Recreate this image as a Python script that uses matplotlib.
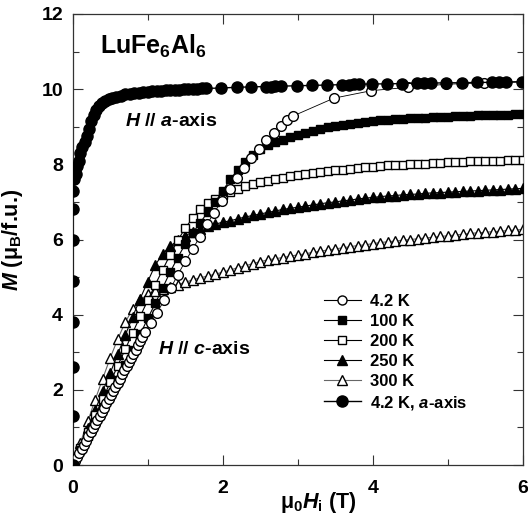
import matplotlib
matplotlib.use("Agg")
import matplotlib.pyplot as plt
from matplotlib.lines import Line2D
from matplotlib.ticker import MultipleLocator

plt.rcParams['font.family'] = ['Liberation Sans', 'DejaVu Sans']
plt.rcParams['font.weight'] = 'bold'
plt.rcParams['mathtext.fontset'] = 'custom'
plt.rcParams['mathtext.rm'] = 'Liberation Sans:bold'
plt.rcParams['mathtext.it'] = 'Liberation Sans:bold:italic'
plt.rcParams['mathtext.bf'] = 'Liberation Sans:bold'

# ---- data ----
x_a = [0, 0, 0, 0, 0, 0, 0, 0, 0, 0.02, 0.04, 0.06, 0.08, 0.10, 0.13, 0.16, 0.19, 0.22,
       0.25, 0.28, 0.31, 0.35, 0.39, 0.43, 0.48, 0.53, 0.58, 0.64, 0.70, 0.76, 0.82, 0.88,
       0.94, 1.00, 1.06, 1.12, 1.18, 1.24, 1.30, 1.36, 1.42, 1.48, 1.54, 1.60, 1.66, 1.72,
       1.78, 1.98, 2.19, 2.38, 2.58, 2.64, 2.70, 2.77, 2.99, 3.19, 3.39, 3.59, 3.68, 3.75,
       3.82, 3.99, 4.19, 4.39, 4.59, 4.68, 4.77, 4.98, 5.19, 5.39, 5.59, 5.68, 5.77, 5.99]
y_a = [0.0, 1.3, 2.6, 3.8, 4.9, 6.0, 6.8, 7.3, 7.6, 7.6, 7.75, 7.95, 8.1, 8.3, 8.47, 8.6, 8.75, 8.95,
       9.15, 9.3, 9.45, 9.55, 9.62, 9.68, 9.73, 9.77, 9.8, 9.83, 9.86, 9.88, 9.9, 9.91,
       9.92, 9.93, 9.94, 9.95, 9.96, 9.97, 9.98, 9.98, 9.99, 10.0, 10.0, 10.01, 10.01, 10.02,
       10.02, 10.03, 10.05, 10.06, 10.07, 10.07, 10.08, 10.08, 10.09, 10.1, 10.11, 10.12, 10.12, 10.13,
       10.13, 10.14, 10.14, 10.15, 10.16, 10.16, 10.16, 10.17, 10.17, 10.18, 10.18, 10.19, 10.19, 10.2]

x_42 = [0.0, 0.03, 0.06, 0.09, 0.12, 0.15, 0.18, 0.21, 0.24, 0.27, 0.30, 0.33, 0.36, 0.39, 0.42,
        0.45, 0.48, 0.51, 0.54, 0.57, 0.60, 0.63, 0.66, 0.69, 0.72, 0.75, 0.78, 0.81, 0.84, 0.87,
        0.90, 0.93, 0.96, 1.04, 1.12, 1.22, 1.31, 1.40, 1.50, 1.60, 1.69, 1.79, 1.88, 1.99, 2.09,
        2.19, 2.28, 2.38, 2.48, 2.58, 2.68, 2.77, 2.86, 2.93, 3.48, 3.98, 4.47, 4.98, 5.48, 5.99]
y_42 = [0.0, 0.1, 0.21, 0.32, 0.43, 0.54, 0.65, 0.76, 0.87, 0.98, 1.09, 1.2, 1.31, 1.42, 1.53,
        1.64, 1.75, 1.86, 1.97, 2.08, 2.19, 2.3, 2.41, 2.52, 2.63, 2.74, 2.85, 2.96, 3.07, 3.18,
        3.29, 3.41, 3.53, 3.78, 4.05, 4.38, 4.72, 5.06, 5.42, 5.75, 6.06, 6.4, 6.71, 7.03, 7.35,
        7.63, 7.89, 8.16, 8.42, 8.64, 8.84, 9.02, 9.18, 9.28, 9.76, 9.96, 10.05, 10.13, 10.17, 10.19]

x_c = [0.0, 0.1, 0.2, 0.3, 0.4, 0.5, 0.6, 0.7, 0.8, 0.9, 1.0, 1.1, 1.2, 1.3, 1.4, 1.5, 1.6, 1.7,
       1.8, 1.9, 2.0, 2.1, 2.2, 2.3, 2.4, 2.5, 2.6, 2.7, 2.8, 2.9, 3.0, 3.1, 3.2, 3.3, 3.4, 3.5,
       3.6, 3.7, 3.8, 3.9, 4.0, 4.1, 4.2, 4.3, 4.4, 4.5, 4.6, 4.7, 4.8, 4.9, 5.0, 5.1, 5.2, 5.3,
       5.4, 5.5, 5.6, 5.7, 5.8, 5.9, 6.0]
y_100 = [0.0, 0.4, 0.78, 1.15, 1.52, 1.9, 2.27, 2.65, 3.05, 3.48, 3.9, 4.3, 4.72, 5.14, 5.52, 5.88,
         6.18, 6.45, 6.73, 7.0, 7.3, 7.6, 7.85, 8.05, 8.25, 8.4, 8.52, 8.6, 8.66, 8.72, 8.78, 8.83,
         8.88, 8.93, 8.98, 9.02, 9.05, 9.08, 9.11, 9.13, 9.15, 9.17, 9.18, 9.2, 9.21, 9.22, 9.23,
         9.24, 9.25, 9.26, 9.27, 9.28, 9.28, 9.29, 9.3, 9.3, 9.31, 9.32, 9.32, 9.33, 9.33]
y_200 = [0.0, 0.44, 0.88, 1.32, 1.76, 2.2, 2.64, 3.08, 3.52, 3.96, 4.38, 4.8, 5.2, 5.6, 5.98, 6.3,
         6.58, 6.8, 6.96, 7.08, 7.18, 7.27, 7.35, 7.42, 7.47, 7.52, 7.56, 7.6, 7.64, 7.68, 7.71,
         7.74, 7.77, 7.8, 7.82, 7.84, 7.86, 7.88, 7.9, 7.92, 7.94, 7.95, 7.97, 7.98, 7.99, 8.0,
         8.01, 8.02, 8.03, 8.04, 8.05, 8.06, 8.07, 8.08, 8.08, 8.09, 8.1, 8.1, 8.11, 8.11, 8.12]
y_250 = [0.0, 0.49, 0.98, 1.47, 1.96, 2.45, 2.95, 3.45, 3.95, 4.43, 4.88, 5.32, 5.62, 5.82, 5.98,
         6.1, 6.2, 6.28, 6.35, 6.41, 6.46, 6.5, 6.55, 6.6, 6.64, 6.68, 6.72, 6.76, 6.8, 6.83, 6.86,
         6.89, 6.92, 6.95, 6.98, 7.0, 7.03, 7.05, 7.08, 7.1, 7.12, 7.14, 7.16, 7.17, 7.19, 7.2,
         7.21, 7.23, 7.24, 7.25, 7.26, 7.27, 7.28, 7.29, 7.3, 7.31, 7.32, 7.33, 7.34, 7.35, 7.36]
y_300 = [0.0, 0.58, 1.16, 1.74, 2.3, 2.85, 3.35, 3.8, 4.15, 4.38, 4.55, 4.62, 4.68, 4.74, 4.8,
         4.86, 4.93, 4.98, 5.03, 5.08, 5.13, 5.19, 5.25, 5.3, 5.36, 5.41, 5.46, 5.49, 5.52, 5.56,
         5.59, 5.62, 5.66, 5.69, 5.72, 5.75, 5.78, 5.81, 5.84, 5.86, 5.89, 5.92, 5.94, 5.96, 5.98,
         6.0, 6.02, 6.04, 6.06, 6.08, 6.1, 6.12, 6.14, 6.16, 6.18, 6.19, 6.21, 6.22, 6.24, 6.25, 6.27]

labels = ['4.2 K', '100 K', '200 K', '250 K', '300 K', '4.2 K, $a$-axis']

fig = plt.figure(figsize=(5.28, 5.16), dpi=100)
ax = fig.add_axes([0.1377, 0.0988, 0.8528, 0.8741])

lw = 0.8
mew = 1.0
ax.plot(x_c, y_300, '-', color='#666666', lw=lw, marker='^', ms=7, mfc='white', mec='black', mew=mew, zorder=2)
ax.plot(x_c, y_250, '-', color='black', lw=lw, marker='^', ms=7, mfc='black', mec='black', mew=mew, zorder=3)
ax.plot(x_c, y_200, '-', color='black', lw=lw, marker='s', ms=6.2, mfc='white', mec='black', mew=mew, zorder=4)
ax.plot(x_c, y_100, '-', color='black', lw=lw, marker='s', ms=6.2, mfc='black', mec='black', mew=mew, zorder=5)
ax.plot(x_42, y_42, '-', color='black', lw=0.6, marker='o', ms=7, mfc='white', mec='black', mew=mew, zorder=6)
ax.plot(x_a, y_a, '-', color='black', lw=1.0, marker='o', ms=8, mfc='black', mec='black', mew=mew, zorder=7)

ax.set_xlim(0, 6)
ax.set_ylim(0, 12)
ax.xaxis.set_major_locator(MultipleLocator(2))
ax.xaxis.set_minor_locator(MultipleLocator(1))
ax.yaxis.set_major_locator(MultipleLocator(2))
ax.yaxis.set_minor_locator(MultipleLocator(1))
ax.tick_params(which='both', direction='in', top=True, right=True, width=0.8, colors='#333333',
               labelcolor='black')
ax.tick_params(which='major', length=7, labelsize=14)
ax.tick_params(axis='x', which='major', pad=11)
ax.tick_params(axis='y', which='major', pad=7)
ax.tick_params(which='minor', length=4.5)
for sp in ax.spines.values():
    sp.set_linewidth(0.9)
    sp.set_color('#333333')

ax.set_xlabel(r'$\mathrm{\mu}_\mathrm{0}H_\mathrm{i}$ (T)', fontsize=15.5, fontweight='bold')
ax.xaxis.set_label_coords(0.545, -0.055)
ax.set_ylabel(r'$M$ ($\mathrm{\mu}_\mathrm{B}$/f.u.)', fontsize=15.5, fontweight='bold')
ax.yaxis.set_label_coords(-0.105, 0.5)

ax.text(0.36, 10.95, r'LuFe$_\mathrm{6}$Al$_\mathrm{6}$', fontsize=18, fontweight='bold')
ax.text(0.70, 9.02, r'$H$ // $a$-axis', fontsize=14, fontweight='bold')
ax.text(1.14, 2.95, r'$H$ // $c$-axis', fontsize=14, fontweight='bold')

handles = [
    Line2D([], [], color='black', lw=0.8, marker='o', ms=6.5, mfc='white', mec='black'),
    Line2D([], [], color='black', lw=0.8, marker='s', ms=5.5, mfc='black', mec='black'),
    Line2D([], [], color='black', lw=0.8, marker='s', ms=5.5, mfc='white', mec='black'),
    Line2D([], [], color='black', lw=0.8, marker='^', ms=6.5, mfc='black', mec='black'),
    Line2D([], [], color='#666666', lw=0.8, marker='^', ms=6.5, mfc='white', mec='black'),
    Line2D([], [], color='black', lw=1.0, marker='o', ms=8, mfc='black', mec='black'),
]
leg = ax.legend(handles, labels, loc='upper left', bbox_to_anchor=(0.558, 0.38), frameon=False,
                fontsize=12, handlelength=2.2, handletextpad=0.55, labelspacing=0.3, borderpad=0,
                borderaxespad=0)
for t in leg.get_texts():
    t.set_fontweight('bold')

fig.savefig('out.png', dpi=100)
